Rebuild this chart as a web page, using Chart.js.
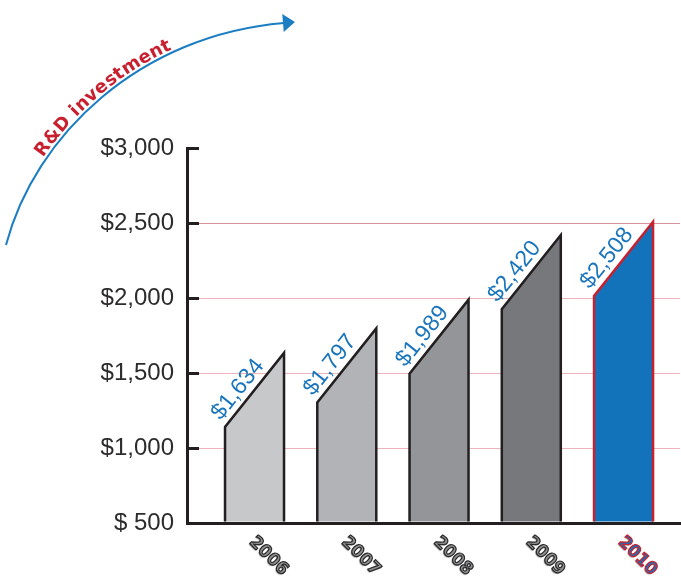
<!DOCTYPE html>
<html>
<head>
<meta charset="utf-8">
<script src="https://cdn.jsdelivr.net/npm/chart.js@4.4.0/dist/chart.umd.min.js"></script>
<style>
html, body { margin: 0; padding: 0; background: #fff; }
</style>
</head>
<body>
<canvas id="rdChart" width="681" height="578"></canvas>
<script>
// datos del grafico
var years = [2006, 2007, 2008, 2009, 2010];
var investment = [1634, 1797, 1989, 2420, 2508];
var yTickValues = [500, 1000, 1500, 2000, 2500, 3000];
var yTickLabels = ['$ 500', '$1,000', '$1,500', '$2,000', '$2,500', '$3,000'];
var chartTitle = 'R&D investment';

// estilos
var barFill = ['#c7c8ca', '#b1b3b6', '#939598', '#77787b', '#1272ba'];
var barLine = ['#231f20', '#231f20', '#231f20', '#231f20', '#c8202f'];
var yearFill = ['#8f9093', '#8f9093', '#8f9093', '#8f9093', '#1a6fb5'];
var yearLine = ['#2b2b2b', '#2b2b2b', '#2b2b2b', '#2b2b2b', '#d0202e'];
var SLANT = 494; // cuanto baja el lado izquierdo de cada barra (en $)

function money(v) {
    return '$' + String(v).replace(/\B(?=(\d{3})+(?!\d))/g, ',');
}

// curva del titulo (bezier)
var curve = [[6, 245], [35, 135], [140, 35], [284, 23]];

function bez(t) {
    var a = (1 - t) * (1 - t) * (1 - t), b = 3 * (1 - t) * (1 - t) * t, c = 3 * (1 - t) * t * t, d = t * t * t;
    return [
        a * curve[0][0] + b * curve[1][0] + c * curve[2][0] + d * curve[3][0],
        a * curve[0][1] + b * curve[1][1] + c * curve[2][1] + d * curve[3][1]
    ];
}

function drawTitle(c) {
    c.save();
    // flecha azul
    c.strokeStyle = '#1b7dc2';
    c.lineWidth = 2;
    c.beginPath();
    c.moveTo(curve[0][0], curve[0][1]);
    c.bezierCurveTo(curve[1][0], curve[1][1], curve[2][0], curve[2][1], curve[3][0], curve[3][1]);
    c.stroke();
    var ex = curve[3][0], ey = curve[3][1];
    var ang = Math.atan2(curve[3][1] - curve[2][1], curve[3][0] - curve[2][0]);
    var ux = Math.cos(ang), uy = Math.sin(ang), nx = -uy, ny = ux;
    c.fillStyle = '#1b7dc2';
    c.beginPath();
    c.moveTo(ex + 11 * ux, ey + 11 * uy);
    c.lineTo(ex - 1 * ux + 9 * nx, ey - 1 * uy + 9 * ny);
    c.lineTo(ex - 1 * ux - 9 * nx, ey - 1 * uy - 9 * ny);
    c.closePath();
    c.fill();

    // texto sobre la curva
    var pts = [], lens = [0];
    for (var i = 0; i <= 400; i++) pts.push(bez(i / 400));
    for (i = 1; i < pts.length; i++) {
        lens.push(lens[i - 1] + Math.hypot(pts[i][0] - pts[i - 1][0], pts[i][1] - pts[i - 1][1]));
    }
    function at(s) {
        for (var k = 1; k < pts.length; k++) {
            if (lens[k] >= s) break;
        }
        if (k >= pts.length) k = pts.length - 1;
        return { x: pts[k][0], y: pts[k][1], a: Math.atan2(pts[k][1] - pts[k - 1][1], pts[k][0] - pts[k - 1][0]) };
    }
    var s = 0;
    for (i = 0; i < pts.length; i++) {
        if (pts[i][0] >= 45) { s = lens[i]; break; }
    }
    c.font = 'bold 18px "DejaVu Sans"';
    c.fillStyle = '#c8202f';
    c.textAlign = 'center';
    c.textBaseline = 'alphabetic';
    for (i = 0; i < chartTitle.length; i++) {
        var ch = chartTitle[i];
        var w = c.measureText(ch).width;
        var p = at(s + w / 2);
        c.save();
        c.translate(p.x, p.y);
        c.rotate(p.a);
        c.fillText(ch, 0, -3);
        c.restore();
        s += w + 0.3;
    }
    c.restore();
}

var rdPlugin = {
    id: 'rdPlugin',
    afterDatasetsDraw: function (chart) {
        var c = chart.ctx;
        var ys = chart.scales.y, xs = chart.scales.x;
        var area = chart.chartArea;
        var meta = chart.getDatasetMeta(0);

        // marcas del eje y hacia dentro
        c.save();
        c.strokeStyle = '#231f20';
        c.lineWidth = 3;
        yTickValues.forEach(function (v) {
            if (v === ys.min) return;
            var py = Math.round(ys.getPixelForValue(v)) + 0.5;
            c.beginPath();
            c.moveTo(area.left, py);
            c.lineTo(area.left + 12, py);
            c.stroke();
        });
        c.restore();

        var base = ys.getPixelForValue(ys.min) - 1.5;

        // barras con la parte de arriba inclinada
        meta.data.forEach(function (bar, i) {
            var left = bar.x - bar.width / 2;
            var right = bar.x + bar.width / 2;
            var yTop = bar.y;
            var yLeft = ys.getPixelForValue(investment[i] - SLANT);

            c.save();
            c.fillStyle = barFill[i];
            c.beginPath();
            c.moveTo(left, base);
            c.lineTo(left, yLeft);
            c.lineTo(right, yTop);
            c.lineTo(right, base);
            c.closePath();
            c.fill();
            c.strokeStyle = barLine[i];
            c.lineWidth = 2.5;
            c.lineJoin = 'miter';
            c.beginPath();
            c.moveTo(left, base);
            c.lineTo(left, yLeft);
            c.lineTo(right, yTop);
            c.lineTo(right, base);
            c.stroke();

            // etiqueta del valor, paralela a la inclinacion
            var ang = Math.atan2(yTop - yLeft, right - left);
            c.translate((left + right) / 2, (yLeft + yTop) / 2);
            c.rotate(ang);
            c.font = '23px "Liberation Sans"';
            c.fillStyle = '#1a75bc';
            c.textAlign = 'center';
            c.textBaseline = 'alphabetic';
            c.fillText(money(investment[i]), -10, -7);
            c.restore();

            // etiqueta del anio, girada hacia abajo
            c.save();
            c.translate(xs.getPixelForValue(years[i]) + 14, area.bottom + 33);
            c.rotate(Math.PI / 4);
            c.font = 'bold 17px "DejaVu Sans"';
            c.textAlign = 'center';
            c.textBaseline = 'middle';
            c.shadowColor = 'rgba(0,0,0,0.5)';
            c.shadowOffsetX = -1;
            c.shadowOffsetY = 1;
            c.shadowBlur = 1;
            c.fillStyle = yearFill[i];
            c.fillText(String(years[i]), 0, 0);
            c.shadowColor = 'rgba(0,0,0,0)';
            c.strokeStyle = yearLine[i];
            c.lineWidth = 1.2;
            c.strokeText(String(years[i]), 0, 0);
            c.restore();
        });
    },
    afterDraw: function (chart) {
        drawTitle(chart.ctx);
    }
};

var ctx = document.getElementById('rdChart').getContext('2d');
var rdChart = new Chart(ctx, {
    type: 'bar',
    data: {
        datasets: [{
            data: years.map(function (y, i) { return { x: y, y: investment[i] }; }),
            backgroundColor: 'rgba(0,0,0,0)',
            borderWidth: 0,
            barThickness: 59
        }]
    },
    options: {
        responsive: false,
        animation: false,
        devicePixelRatio: 1,
        layout: { padding: { top: 148, right: 1, bottom: 55, left: 0 } },
        plugins: {
            legend: { display: false },
            tooltip: { enabled: false }
        },
        scales: {
            x: {
                type: 'linear',
                min: 2005.268,
                max: 2010.612,
                offset: false,
                grid: { display: false, drawTicks: false },
                border: { display: true, color: '#231f20', width: 3 },
                ticks: { display: false },
                afterFit: function (s) { s.height = 0; }
            },
            y: {
                min: 500,
                max: 3000,
                afterBuildTicks: function (s) {
                    s.ticks = yTickValues.map(function (v) { return { value: v }; });
                },
                afterFit: function (s) { s.width = 187; },
                ticks: {
                    callback: function (v) { return yTickLabels[yTickValues.indexOf(v)]; },
                    font: { family: 'Liberation Sans', size: 24 },
                    color: '#2e2b2c',
                    padding: 13
                },
                grid: {
                    drawTicks: false,
                    lineWidth: 1,
                    color: function (g) {
                        var v = g.tick ? g.tick.value : 0;
                        if (v === 500 || v === 3000) return 'rgba(0,0,0,0)';
                        if (v === 2500) return '#d9939b';
                        return '#efb3bb';
                    }
                },
                border: { color: '#231f20', width: 3 }
            }
        }
    },
    plugins: [rdPlugin]
});
</script>
</body>
</html>
